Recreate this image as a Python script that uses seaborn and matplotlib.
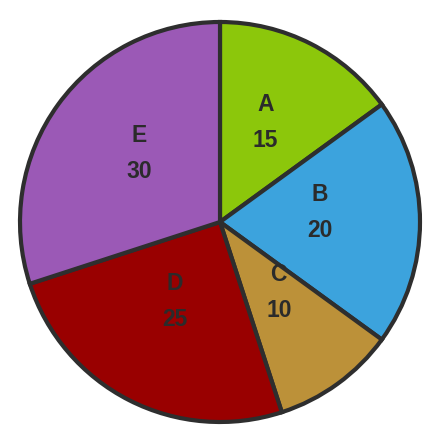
import numpy as np
import matplotlib
matplotlib.use("Agg")
import matplotlib.pyplot as plt
import seaborn as sns

sns.set_theme(style="white")
plt.rcParams["font.family"] = ["Liberation Sans", "DejaVu Sans"]

categories = ["A", "B", "C", "D", "E"]
values = [15, 20, 10, 25, 30]
colors = ["#8cc70b", "#3ca3dd", "#bc9139", "#990000", "#9b59b6"]

fig = plt.figure(figsize=(4.42, 4.42), dpi=100)
ax = fig.add_axes([0, 0, 1, 1])

wedges, _ = ax.pie(
    values,
    colors=colors,
    startangle=90,
    counterclock=False,
    radius=1.0,
    wedgeprops=dict(edgecolor="#2e2e2e", linewidth=3.0),
)

# Two-line labels (name over value) inside each wedge
r = 0.5
for w, name, val in zip(wedges, categories, values):
    ang = np.deg2rad((w.theta1 + w.theta2) / 2)
    x, y = r * np.cos(ang), r * np.sin(ang)
    ax.text(x, y + 0.14, name, ha="center", va="center",
            fontsize=16.5, fontweight="bold", color="#2b2b2b")
    ax.text(x, y - 0.04, str(val), ha="center", va="center",
            fontsize=16.5, fontweight="bold", color="#2b2b2b")

ax.set_xlim(-1.10, 1.11)
ax.set_ylim(-1.10, 1.11)
ax.set_aspect("equal")
ax.axis("off")

fig.savefig("out.png", dpi=100, facecolor="white")
